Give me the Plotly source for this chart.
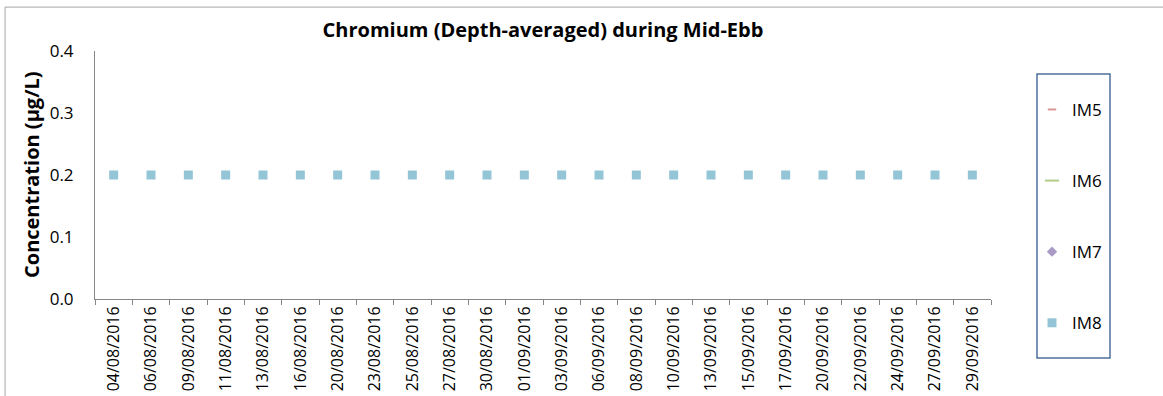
import plotly.graph_objects as go

dates = ["04/08/2016", "06/08/2016", "09/08/2016", "11/08/2016", "13/08/2016",
         "16/08/2016", "20/08/2016", "23/08/2016", "25/08/2016", "27/08/2016",
         "30/08/2016", "01/09/2016", "03/09/2016", "06/09/2016", "08/09/2016",
         "10/09/2016", "13/09/2016", "15/09/2016", "17/09/2016", "20/09/2016",
         "22/09/2016", "24/09/2016", "27/09/2016", "29/09/2016"]
im5 = [None] * len(dates)
im6 = [None] * len(dates)
im7 = [None] * len(dates)
im8 = [0.2, 0.2, 0.2, 0.2, 0.2, 0.2, 0.2, 0.2, 0.2, 0.2, 0.2, 0.2,
       0.2, 0.2, 0.2, 0.2, 0.2, 0.2, 0.2, 0.2, 0.2, 0.2, 0.2, 0.2]
y_title = "Concentration (µg/L)"
chart_title = "Chromium (Depth-averaged) during Mid-Ebb"

FONT = "Open Sans"

fig = go.Figure()
fig.add_trace(go.Scatter(x=dates, y=im5, name="IM5", mode="markers", legendgroup="a",
                         marker=dict(symbol="line-ew", size=6, color="#d99694",
                                     line=dict(color="#d99694", width=2))))
fig.add_trace(go.Scatter(x=dates, y=im6, name="IM6", mode="markers", legendgroup="b",
                         marker=dict(symbol="line-ew", size=10, color="#b3cc8a",
                                     line=dict(color="#b3cc8a", width=2))))
fig.add_trace(go.Scatter(x=dates, y=im7, name="IM7", mode="markers", legendgroup="c",
                         marker=dict(symbol="diamond", size=8, color="#a99bc6")))
fig.add_trace(go.Scatter(x=dates, y=im8, name="IM8", mode="markers", legendgroup="d",
                         marker=dict(symbol="square", size=9, color="#93c5d6")))

fig.update_layout(
    width=1163, height=396,
    margin=dict(l=95, r=172, t=51, b=97, autoexpand=False),
    plot_bgcolor="white", paper_bgcolor="white",
    font=dict(family=FONT, size=14, color="#000000"),
    title=dict(text="<b>" + chart_title + "</b>",
               x=0.5, xref="paper", xanchor="center", y=0.925, yanchor="middle",
               font=dict(family=FONT, size=20, color="#000000")),
    showlegend=True,
    legend=dict(xref="container", x=1032 / 1163, xanchor="left",
                yref="paper", y=0.835, yanchor="top", maxheight=396,
                traceorder="grouped", tracegroupgap=46,
                bgcolor="rgba(0,0,0,0)", borderwidth=0,
                font=dict(family=FONT, size=17)),
    shapes=[
        dict(type="rect", xref="paper", yref="paper",
             x0=-0.1004, x1=1.2, y0=-0.45, y1=1.177,
             line=dict(color="#a6a6a6", width=1)),
        dict(type="rect", xref="paper", yref="paper",
             x0=(1037 - 95) / 896, x1=(1110 - 95) / 896,
             y0=(299 - 358) / 248, y1=(299 - 74) / 248,
             line=dict(color="#4f6f9f", width=1.5)),
    ],
    annotations=[
        dict(text="<b>" + y_title + "</b>", xref="paper", yref="paper",
             x=(31 - 95) / 896, y=0.5, xanchor="center", yanchor="middle",
             textangle=-90, showarrow=False,
             font=dict(family=FONT, size=20, color="#000000")),
    ],
    yaxis2=dict(overlaying="y", side="left", range=[0, 0.4], dtick=0.1,
                showline=False, showgrid=False, zeroline=False,
                ticks="outside", ticklen=5, tickcolor="#868686",
                showticklabels=False, automargin=False),
)
fig.update_xaxes(type="category", range=[-0.5, len(dates) - 0.5], automargin=False,
                 showline=True, linecolor="#868686", linewidth=1,
                 ticks="outside", ticklen=5, tickcolor="#868686", tickson="boundaries",
                 tickangle=-90, showgrid=False, zeroline=False,
                 tickfont=dict(family=FONT, size=16))
fig.update_yaxes(selector=dict(overlaying=None), range=[0, 0.4], dtick=0.1,
                 tickformat=".1f", showline=True, automargin=False,
                 linecolor="#868686", linewidth=1, ticks="outside", ticklen=17,
                 tickcolor="rgba(0,0,0,0)", showgrid=False, zeroline=False,
                 tickfont=dict(family=FONT, size=17))
fig.layout.yaxis.update(range=[0, 0.4], dtick=0.1, tickformat=".1f", showline=True,
                        automargin=False, linecolor="#868686", linewidth=1,
                        ticks="outside", ticklen=17, tickcolor="rgba(0,0,0,0)",
                        showgrid=False, zeroline=False,
                        tickfont=dict(family=FONT, size=17))

fig.write_html("out.html", config={"displayModeBar": False},
               post_script="document.body.style.margin='0';document.body.style.overflow='hidden';")
